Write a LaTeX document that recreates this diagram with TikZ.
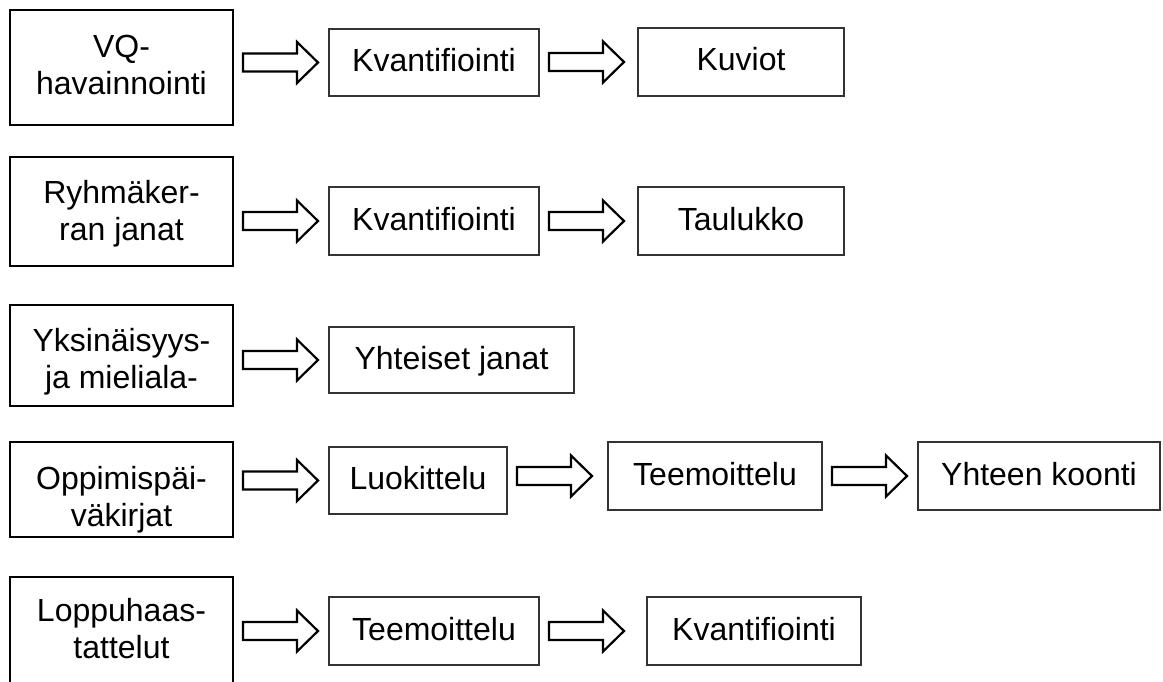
\documentclass[tikz,border=0pt]{standalone}
\usepackage{fontspec}
\setmainfont{Liberation Sans}
\usetikzlibrary{calc}

\tikzset{
  srcbox/.style={draw=black, line width=2.4pt, minimum width=223pt,
    inner sep=0pt, outer sep=0pt},
  srctext/.style={align=center, anchor=north, inner sep=0pt,
    font=\fontsize{32}{37}\selectfont},
  stagebox/.style={draw=black!80, line width=1.3pt, inner sep=0pt, outer sep=0pt,
    text height=23pt, text depth=5pt, font=\fontsize{32}{37}\selectfont},
  hollowarrow/.style={draw=black, line width=2.2pt, fill=white, line join=miter},
}

% outlined block arrow leaving #1 and pointing at the middle of #2
\newcommand\blockarrow[2]{%
  \draw[hollowarrow] let \p1=(#1.east), \p2=(#2.center) in
    (\x1+10,\y2+9) -- (\x1+64,\y2+9) -- (\x1+64,\y2+20.5) -- (\x1+85,\y2)
    -- (\x1+64,\y2-20.5) -- (\x1+64,\y2-9) -- (\x1+10,\y2-9) -- cycle;}

\begin{document}
\begin{tikzpicture}[x=1pt,y=-1pt]
\useasboundingbox (0,0) rectangle (1163,682);

% source material boxes
\node[srcbox, minimum height=115pt] (s1) at (121.5,67.5) {};
\node[srcbox, minimum height=109pt] (s2) at (121.5,211.5) {};
\node[srcbox, minimum height=101pt] (s3) at (121.5,355.5) {};
\node[srcbox, minimum height=95pt]  (s4) at (121.5,489.5) {};
\node[srcbox, minimum height=143pt] (s5) at (121.5,648.5) {};

\node[srctext] (s1t) at ($(s1.north)+(0,25)$) {VQ-\\havainnointi};
\node[srctext] (s2t) at ($(s2.north)+(0,23)$) {Ryhmäker-\\ran janat};
\node[srctext] (s3t) at ($(s3.north)+(0,23)$) {Yksinäisyys-\\ja mieliala-};
\node[srctext] (s4t) at ($(s4.north)+(0,24)$) {Oppimispäi-\\väkirjat};
\node[srctext] (s5t) at ($(s5.north)+(0,21)$) {Loppuhaas-\\tattelut};

% analysis stages
\node[stagebox, minimum width=210pt, minimum height=67pt] (r1a) at (434,62.5) {Kvantifiointi};
\node[stagebox, minimum width=206pt, minimum height=68pt] (r1b) at (741,62) {Kuviot};

\node[stagebox, minimum width=210pt, minimum height=68pt] (r2a) at (434,221) {Kvantifiointi};
\node[stagebox, minimum width=206pt, minimum height=68pt] (r2b) at (741,221) {Taulukko};

\node[stagebox, minimum width=245pt, minimum height=66pt] (r3a) at (451.5,360) {Yhteiset janat};

\node[stagebox, minimum width=178pt, minimum height=67pt] (r4a) at (418,480.5) {Luokittelu};
\node[stagebox, minimum width=214pt, minimum height=68pt] (r4b) at (715,476) {Teemoittelu};
\node[stagebox, minimum width=242pt, minimum height=68pt] (r4c) at (1039,476) {Yhteen koonti};

\node[stagebox, minimum width=210pt, minimum height=68pt] (r5a) at (434,631) {Teemoittelu};
\node[stagebox, minimum width=214pt, minimum height=68pt] (r5b) at (754,631) {Kvantifiointi};

% flow arrows
\blockarrow{s1}{r1a}
\blockarrow{r1a}{r1b}
\blockarrow{s2}{r2a}
\blockarrow{r2a}{r2b}
\blockarrow{s3}{r3a}
\blockarrow{s4}{r4a}
\blockarrow{r4a}{r4b}
\blockarrow{r4b}{r4c}
\blockarrow{s5}{r5a}
\blockarrow{r5a}{r5b}
\end{tikzpicture}
\end{document}
